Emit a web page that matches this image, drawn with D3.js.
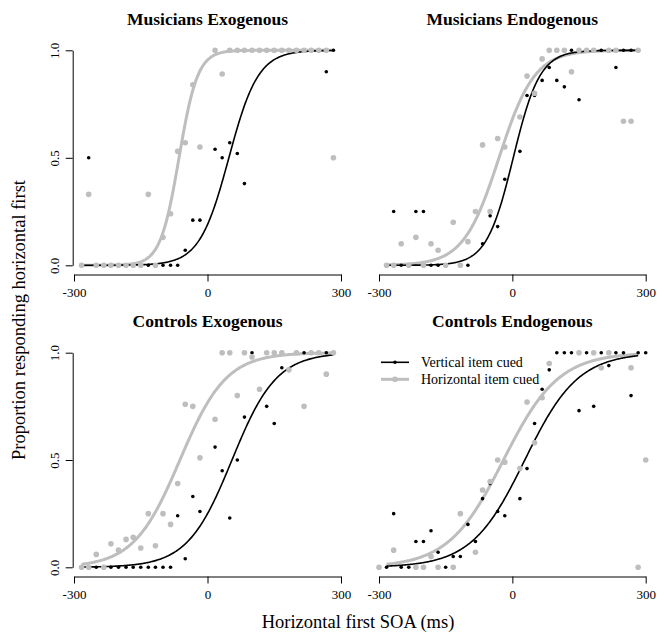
<!DOCTYPE html>
<html>
<head>
<meta charset="utf-8">
<script src="https://cdn.jsdelivr.net/npm/d3@7"></script>
<style>
  body { margin: 0; background: #fff; }
  svg { font-family: "Liberation Serif", "Times New Roman", serif; }
</style>
</head>
<body>
<div id="chart"></div>
<script>
(function () {

  // SOA values (ms), one screen frame apart; 0 was not tested
  const soa = [-300, -283, -267, -250, -233, -217, -200, -183, -167, -150, -133, -117, -100, -83, -67, -50, -33, -17,
               17, 33, 50, 67, 83, 100, 117, 133, 150, 167, 183, 200, 217, 233, 250, 267, 283, 300]

  // Proportion responding horizontal first (null = not shown)
  const musExoVert = [null, 0, 0.5, 0, 0, 0, 0, 0, 0, 0, 0, 0, 0, 0, 0, 0.07, 0.21, 0.21,
                      0.54, 0.5, 0.57, 0.52, 0.38, 1, 1, 1, 1, 1, 1, 1, 1, 1, 1, 0.9, 1, null]
  const musExoHoriz = [null, 0, 0.33, 0, 0, 0, 0, 0, 0, 0, 0.33, 0, 0.13, 0.24, 0.53, 0.57, 0.84, 0.55,
                       1, 0.89, 1, 1, 1, 1, 1, 1, 1, 1, 1, 1, 1, 1, 1, 1, 0.5, null]
  const musEndoVert = [null, 0, 0.25, 0, 0, 0.25, 0.25, 0, 0, 0, 0.2, 0, 0, 0.25, 0.1, 0.23, 0.18, 0.4,
                       0.53, 0.79, 0.79, 0.86, 0.92, 0.86, 0.83, 1, 0.77, 1, 1, 1, 1, 0.92, 1, 1, 1, null]
  const musEndoHoriz = [null, 0, 0, 0.1, 0, 0.13, 0, 0.1, 0.07, 0, 0.2, 0, 0.11, 0.25, 0.56, 0.25, 0.59, 0.55,
                        0.69, 0.88, 0.8, 0.96, 1, 1, 1, 0.9, 1, 1, 1, null, 1, 1, 0.67, 0.67, 1, null]
  const conExoVert = [null, 0, 0, 0, 0, 0, 0, 0, 0, 0, 0, 0, 0, 0, 0.24, 0.04, 0.33, 0.26,
                      0.56, 0.45, 0.23, 0.5, 0.7, 1, 0.83, 0.75, 0.67, 0.93, 0.92, 1, 1, 1, 1, 1, 1, null]
  const conExoHoriz = [null, 0, 0, 0.06, 0, 0.11, 0.08, 0.13, 0.14, 0.09, 0.25, 0.1, 0.25, 0.2, 0.39, 0.76, 0.75, 0.51,
                       0.69, 1, 1, 0.8, 1, 0.98, 0.83, 1, 1, 1, 0.92, 1, 0.75, 1, 1, 0.9, 1, null]
  const conEndoVert = [null, 0, 0.25, 0, 0, 0.12, 0.12, 0.17, 0.07, 0, 0.05, 0.05, 0.2, 0.12, 0.32, 0.39, 0.26, 0.24,
                       0.32, 0.46, 0.67, 0.83, 0.92, 1, 1, 1, 0.73, 1, 0.75, 1, 0.94, 1, 1, 0.8, 1, 1]
  const conEndoHoriz = [0, null, 0.08, null, null, 0, 0, 0.05, 0, null, 0, 0.25, null, 0.07, 0.36, 0.4, 0.5, 0.49,
                        0.46, 0.77, 0.58, 0.79, 0.95, null, null, null, 1, null, 1, 0.93, 1, null, null, 0.93, 0, 0.5]

  // Logistic fits: midpoint (ms) and scale (ms)
  const fitMidVert = [48, 2, 55, 28]
  const fitMidHoriz = [-64, -30, -62, -20]
  const fitScaleVert = [33, 30, 50, 60]
  const fitScaleHoriz = [21, 40, 52, 62]

  const titles = ["Musicians Exogenous", "Musicians Endogenous", "Controls Exogenous", "Controls Endogenous"]
  const seriesNames = ["Vertical item cued", "Horizontal item cued"]
  const xTicks = [-300, 0, 300]
  const yTicks = [0, 0.5, 1]

  const vertData = [musExoVert, musEndoVert, conExoVert, conEndoVert]
  const horizData = [musExoHoriz, musEndoHoriz, conExoHoriz, conEndoHoriz]

  const grey = "#bebebe"
  const serif = "'Liberation Serif', 'Times New Roman', serif"
  const width = 664
  const height = 637

  const svg = d3.select("#chart").append("svg")
      .attr("width", width)
      .attr("height", height)

  // Panel layout (2 x 2)
  const colRange = [[74, 341], [379, 645.7]]
  const rowRange = [[265.3, 50.3], [567.3, 352.7]]

  titles.forEach((title, i) => {
    const col = i % 2
    const row = Math.floor(i / 2)
    const x = d3.scaleLinear().domain([-300, 300]).range(colRange[col])
    const y = d3.scaleLinear().domain([0, 1]).range(rowRange[row])
    const g = svg.append("g")

    // x axis (plain hyphen for negatives, like the original)
    const xAxis = g.append("g")
      .attr("transform", "translate(0," + (y(0) + 9.2) + ")")
      .call(d3.axisBottom(x).tickValues(xTicks).tickFormat(d => String(d))
        .tickSize(7).tickSizeOuter(0).tickPadding(6.5))
    xAxis.attr("font-family", serif).attr("font-size", 13)
    xAxis.selectAll("text").attr("fill", "#000")

    // y axis only on the left column
    if (col === 0) {
      const yAxis = g.append("g")
        .attr("transform", "translate(" + (x(-300) - 1.3) + ",0)")
        .call(d3.axisLeft(y).tickValues(yTicks).tickFormat(d3.format(".1f")).tickSize(7).tickSizeOuter(0))
      yAxis.attr("font-family", serif).attr("font-size", 13)
      yAxis.selectAll("text")
        .attr("fill", "#000")
        .attr("text-anchor", "middle")
        .attr("transform", "rotate(-90)")
        .attr("x", 0)
        .attr("y", -13.4)
        .attr("dy", 0)
    }
    g.selectAll(".domain, .tick line").attr("stroke", "#000")

    // title
    g.append("text")
      .attr("x", x(0))
      .attr("y", y(1) - 25.8)
      .attr("text-anchor", "middle")
      .style("font-size", "17.5px")
      .style("font-weight", "bold")
      .text(title)

    // fitted curves
    const curveX = d3.range(-283, 284, 2)
    const line = d3.line().x(d => x(d[0])).y(d => y(d[1]))
    const logistic = (mid, s) => curveX.map(v => [v, 1 / (1 + Math.exp(-(v - mid) / s))])

    g.append("path")
      .attr("d", line(logistic(fitMidHoriz[i], fitScaleHoriz[i])))
      .attr("fill", "none")
      .attr("stroke", grey)
      .attr("stroke-width", 3)
    g.append("path")
      .attr("d", line(logistic(fitMidVert[i], fitScaleVert[i])))
      .attr("fill", "none")
      .attr("stroke", "#000")
      .attr("stroke-width", 1.6)

    // points: black first, grey on top
    const vPts = soa.map((s, j) => ({ s: s, p: vertData[i][j] })).filter(d => d.p !== null)
    const hPts = soa.map((s, j) => ({ s: s, p: horizData[i][j] })).filter(d => d.p !== null)

    g.append("g").selectAll("circle")
      .data(vPts)
      .join("circle")
      .attr("cx", d => x(d.s))
      .attr("cy", d => y(d.p))
      .attr("r", 1.8)
      .attr("fill", "#000")

    g.append("g").selectAll("circle")
      .data(hPts)
      .join("circle")
      .attr("cx", d => x(d.s))
      .attr("cy", d => y(d.p))
      .attr("r", 2.8)
      .attr("fill", grey)

    // legend in the last panel
    if (i === 3) {
      const legend = g.append("g")
      const rows = [{ name: seriesNames[0], color: "#000", w: 1.6, r: 1.8 },
                    { name: seriesNames[1], color: grey, w: 3, r: 2.8 }]
      rows.forEach((d, k) => {
        const ly = 362.3 + k * 17
        legend.append("line")
          .attr("x1", 381).attr("x2", 409)
          .attr("y1", ly).attr("y2", ly)
          .attr("stroke", d.color)
          .attr("stroke-width", d.w)
        legend.append("circle")
          .attr("cx", 395).attr("cy", ly)
          .attr("r", d.r)
          .attr("fill", d.color)
        legend.append("text")
          .attr("x", 421)
          .attr("y", ly + 4.6)
          .style("font-size", "14px")
          .text(d.name)
      })
    }
  })

  // outer axis titles
  svg.append("text")
    .attr("x", 358)
    .attr("y", 628)
    .attr("text-anchor", "middle")
    .style("font-size", "18.5px")
    .text("Horizontal first SOA (ms)")

  svg.append("text")
    .attr("transform", "translate(25,320) rotate(-90)")
    .attr("text-anchor", "middle")
    .style("font-size", "18.5px")
    .text("Proportion responding horizontal first")

})();
</script>
</body>
</html>
